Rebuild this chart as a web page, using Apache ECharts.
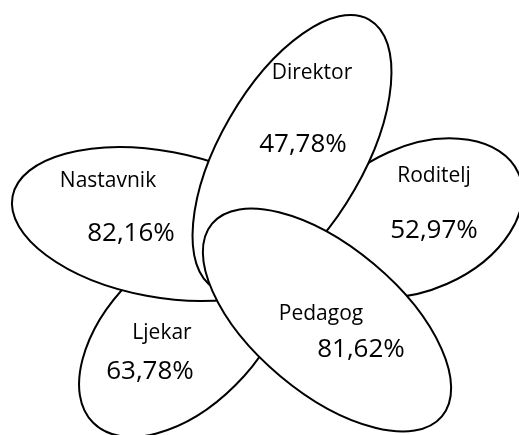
<!DOCTYPE html>
<html>
<head>
<meta charset="utf-8">
<script src="https://cdn.jsdelivr.net/npm/echarts@6/dist/echarts.min.js"></script>
<style>
html,body{margin:0;padding:0;background:#ffffff;}
#chart{width:519px;height:435px;}
</style>
</head>
<body>
<div id="chart"></div>
<script>
// Categories in drawing order (bottom layer first)
const categories = ['Ljekar', 'Roditelj', 'Nastavnik', 'Direktor', 'Pedagog'];
const values = [63.78, 52.97, 82.16, 47.78, 81.62];

// Petal geometry in chart units: [centerX, centerY, semiMajor, semiMinor, angleDeg]
const petalLayout = [
  [183, 333, 127, 74, 45],
  [418, 218, 110, 72, 24],
  [160, 224, 150, 73, -10.6],
  [292, 154, 155, 72, 60],
  [327, 320, 150, 73, -40]
];
// Label anchor points in chart units
const namePos = [[162, 333], [434, 176], [108, 181], [312, 73], [321, 314]];
const valuePos = [[150, 372], [434, 231], [131, 234], [303, 145], [361, 350]];

function fmt(v) { return v.toFixed(2).replace('.', ',') + '%'; }

const seriesData = categories.map(function (name, i) {
  const g = petalLayout[i];
  return {
    name: name,
    value: [g[0], g[1], g[2], g[3], g[4], namePos[i][0], namePos[i][1], valuePos[i][0], valuePos[i][1], values[i]]
  };
});

const chart = echarts.init(document.getElementById('chart'), null, {renderer: 'canvas'});
const FONT = '"Open Sans", "Noto Sans", sans-serif';

chart.setOption({
  animation: false,
  backgroundColor: '#ffffff',
  grid: {left: 0, right: 0, top: 0, bottom: 0},
  xAxis: {type: 'value', min: 0, max: 519, show: false},
  yAxis: {type: 'value', min: 0, max: 435, inverse: true, show: false},
  series: [{
    type: 'custom',
    coordinateSystem: 'cartesian2d',
    data: seriesData,
    renderItem: function (params, api) {
      const c = api.coord([api.value(0), api.value(1)]);
      const sz = api.size([api.value(2), api.value(3)]);
      const np = api.coord([api.value(5), api.value(6)]);
      const vp = api.coord([api.value(7), api.value(8)]);
      const idx = params.dataIndex;
      return {
        type: 'group',
        children: [{
          type: 'ellipse',
          x: c[0], y: c[1],
          rotation: api.value(4) * Math.PI / 180,
          shape: {cx: 0, cy: 0, rx: sz[0], ry: sz[1]},
          style: {fill: '#ffffff', stroke: '#000000', lineWidth: 2}
        }, {
          type: 'text',
          z2: 100,
          x: np[0], y: np[1],
          style: {text: categories[idx], fill: '#000000', font: '21px ' + FONT, align: 'center', verticalAlign: 'middle'}
        }, {
          type: 'text',
          z2: 100,
          x: vp[0], y: vp[1],
          style: {text: fmt(api.value(9)), fill: '#000000', font: '26px ' + FONT, align: 'center', verticalAlign: 'middle'}
        }]
      };
    }
  }]
});
</script>
</body>
</html>
